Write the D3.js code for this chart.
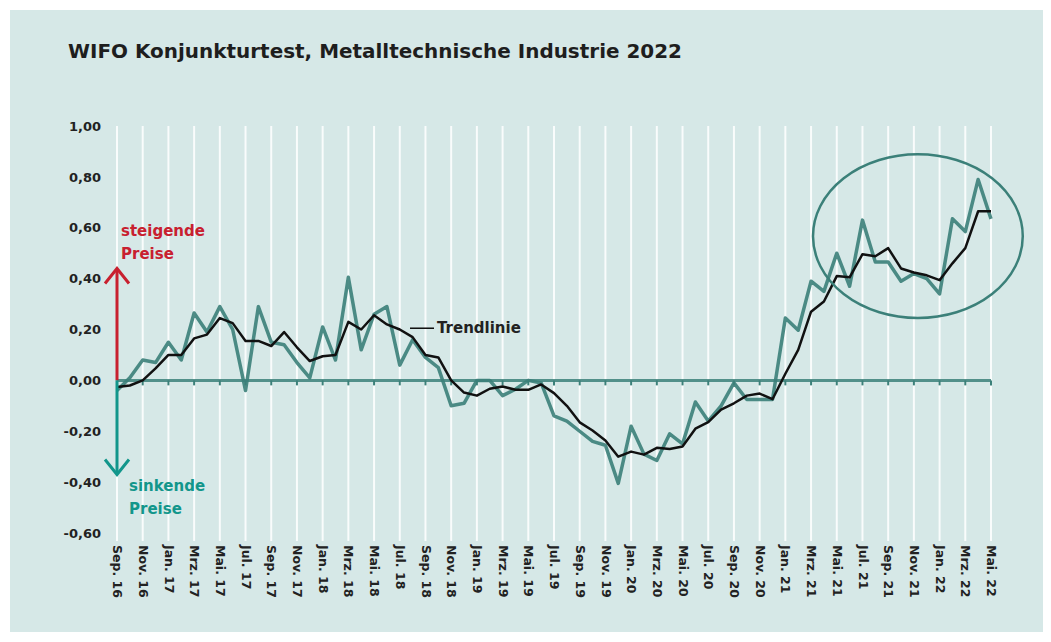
<!DOCTYPE html>
<html>
<head>
<meta charset="utf-8">
<script src="https://cdn.jsdelivr.net/npm/d3@7"></script>
<style>
  body { margin: 0; background: #fff; }
  text { font-family: "DejaVu Sans", "Noto Sans", sans-serif; }
</style>
</head>
<body>
<div class="canvas"></div>
<script>
// months Sep 16 .. Mai 22
const months = [
  'Sep. 16','Okt. 16','Nov. 16','Dez. 16',
  'Jan. 17','Feb. 17','Mrz. 17','Apr. 17','Mai. 17','Jun. 17','Jul. 17','Aug. 17','Sep. 17','Okt. 17','Nov. 17','Dez. 17',
  'Jan. 18','Feb. 18','Mrz. 18','Apr. 18','Mai. 18','Jun. 18','Jul. 18','Aug. 18','Sep. 18','Okt. 18','Nov. 18','Dez. 18',
  'Jan. 19','Feb. 19','Mrz. 19','Apr. 19','Mai. 19','Jun. 19','Jul. 19','Aug. 19','Sep. 19','Okt. 19','Nov. 19','Dez. 19',
  'Jan. 20','Feb. 20','Mrz. 20','Apr. 20','Mai. 20','Jun. 20','Jul. 20','Aug. 20','Sep. 20','Okt. 20','Nov. 20','Dez. 20',
  'Jan. 21','Feb. 21','Mrz. 21','Apr. 21','Mai. 21','Jun. 21','Jul. 21','Aug. 21','Sep. 21','Okt. 21','Nov. 21','Dez. 21',
  'Jan. 22','Feb. 22','Mrz. 22','Apr. 22','Mai. 22'
];

// tick labels on the x axis (every second month)
const tickLabels = [
  'Sep. 16','Nov. 16','Jan. 17','Mrz. 17','Mai. 17','Jul. 17','Sep. 17','Nov. 17',
  'Jan. 18','Mrz. 18','Mai. 18','Jul. 18','Sep. 18','Nov. 18','Jan. 19','Mrz. 19',
  'Mai. 19','Jul. 19','Sep. 19','Nov. 19','Jan. 20','Mrz. 20','Mai. 20','Jul. 20',
  'Sep. 20','Nov. 20','Jan. 21','Mrz. 21','Mai. 21','Jul. 21','Sep. 21','Nov. 21',
  'Jan. 22','Mrz. 22','Mai. 22'
];

const yTicks = [1.0, 0.8, 0.6, 0.4, 0.2, 0.0, -0.2, -0.4, -0.6];

// Saldo (monthly values)
const saldo = [
  -0.04, 0.01, 0.08, 0.07, 0.15, 0.08, 0.265, 0.19, 0.29, 0.20, -0.04, 0.29,
  0.15, 0.14, 0.07, 0.01, 0.21, 0.08, 0.405, 0.12, 0.26, 0.29, 0.06, 0.16,
  0.09, 0.05, -0.10, -0.09, 0.00, 0.00, -0.06, -0.035, 0.00, -0.01, -0.14, -0.16,
  -0.20, -0.24, -0.255, -0.405, -0.18, -0.29, -0.315, -0.21, -0.25, -0.085, -0.16, -0.10,
  -0.01, -0.075, -0.075, -0.075, 0.245, 0.197, 0.39, 0.35, 0.50, 0.37, 0.63, 0.465,
  0.465, 0.39, 0.42, 0.40, 0.34, 0.635, 0.585, 0.79, 0.635
];

// Trendlinie
const trend = [
  -0.026, -0.02, 0.00, 0.047, 0.10, 0.10, 0.165, 0.18, 0.245, 0.225, 0.155, 0.155,
  0.135, 0.19, 0.13, 0.076, 0.095, 0.10, 0.23, 0.20, 0.256, 0.22, 0.20, 0.17,
  0.10, 0.09, 0.00, -0.048, -0.06, -0.033, -0.024, -0.037, -0.037, -0.016, -0.05, -0.10,
  -0.165, -0.197, -0.236, -0.30, -0.28, -0.292, -0.265, -0.27, -0.26, -0.19, -0.164, -0.115,
  -0.09, -0.06, -0.052, -0.074, 0.026, 0.12, 0.27, 0.31, 0.41, 0.405, 0.496, 0.488,
  0.52, 0.44, 0.424, 0.413, 0.394, 0.46, 0.52, 0.665, 0.665
];

const width = 1051, height = 642;
const bg = '#d6e8e7';
const teal = '#3b8079';
const red = '#c8202f';
const arrowTeal = '#12968b';

const svg = d3.select('.canvas')
  .append('svg')
    .attr('width', width)
    .attr('height', height);

// panel background
svg.append('rect')
  .attr('x', 10).attr('y', 10)
  .attr('width', 1033).attr('height', 622)
  .attr('fill', bg);

svg.append('text')
  .attr('x', 68).attr('y', 58)
  .attr('font-size', 19).attr('font-weight', 700)
  .attr('fill', '#1e1e1e')
  .attr('textLength', 614)
  .attr('lengthAdjust', 'spacingAndGlyphs')
  .text('WIFO Konjunkturtest, Metalltechnische Industrie 2022');

// scales
const x = d3.scalePoint()
  .domain(months)
  .range([117, 991]);

const y = d3.scaleLinear()
  .domain([-0.6, 1.0])
  .range([533, 126]);

// vertical white grid lines
svg.append('g')
  .selectAll('line')
  .data(tickLabels)
  .enter().append('line')
    .attr('x1', d => x(d)).attr('x2', d => x(d))
    .attr('y1', y(1.0)).attr('y2', y(-0.6) + 8)
    .attr('stroke', '#ffffff')
    .attr('stroke-opacity', 0.85)
    .attr('stroke-width', 2);

// y axis labels
const yAxis = d3.axisLeft(y)
  .tickValues(yTicks)
  .tickSize(0)
  .tickPadding(0)
  .tickFormat(d => d3.format('.2f')(d).replace('.', ',').replace('−', '-'));

const yAxisGroup = svg.append('g')
  .attr('transform', 'translate(101, 0)')
  .call(yAxis);
yAxisGroup.select('.domain').remove();
yAxisGroup.selectAll('text')
  .attr('font-size', 13).attr('font-weight', 700)
  .attr('fill', '#222')
  .attr('font-family', '"DejaVu Sans", sans-serif');

// x axis labels (rotated)
const xAxis = d3.axisBottom(x)
  .tickValues(tickLabels)
  .tickSize(0)
  .tickPadding(0);

const xAxisGroup = svg.append('g')
  .attr('transform', `translate(0, ${y(-0.6) + 12})`)
  .call(xAxis);
xAxisGroup.select('.domain').remove();
xAxisGroup.selectAll('text')
  .attr('font-size', 12.5).attr('font-weight', 700)
  .attr('fill', '#222')
  .attr('font-family', '"DejaVu Sans", sans-serif')
  .attr('transform', 'rotate(90)')
  .attr('text-anchor', 'start')
  .attr('x', 0).attr('y', 0)
  .attr('dy', '0.35em');

// zero line with small ticks
svg.append('line')
  .attr('x1', x(months[0])).attr('x2', x(months[months.length - 1]))
  .attr('y1', y(0)).attr('y2', y(0))
  .attr('stroke', teal).attr('stroke-opacity', 0.85)
  .attr('stroke-width', 3);

svg.append('g')
  .selectAll('line')
  .data(tickLabels)
  .enter().append('line')
    .attr('x1', d => x(d)).attr('x2', d => x(d))
    .attr('y1', y(0)).attr('y2', y(0) + 5)
    .attr('stroke', teal).attr('stroke-width', 2);

// lines
const line = d3.line()
  .x((d, i) => x(months[i]))
  .y(d => y(d));

svg.append('path')
  .datum(saldo)
  .attr('fill', 'none')
  .attr('stroke', teal)
  .attr('stroke-opacity', 0.9)
  .attr('stroke-width', 3.5)
  .attr('stroke-linejoin', 'round')
  .attr('d', line);

svg.append('path')
  .datum(trend)
  .attr('fill', 'none')
  .attr('stroke', '#111')
  .attr('stroke-width', 2.5)
  .attr('stroke-linejoin', 'round')
  .attr('d', line);

// ellipse around the most recent months
svg.append('ellipse')
  .attr('cx', x('Nov. 21') + 4)
  .attr('cy', y(0.567))
  .attr('rx', (x('Mai. 22') - x('Jan. 21')) * 0.51)
  .attr('ry', y(0.245) - y(0.567))
  .attr('fill', 'none')
  .attr('stroke', teal)
  .attr('stroke-width', 2.5);

// arrows
const ax = x(months[0]);
const arrow = (yEnd, color, dir) => {
  svg.append('line')
    .attr('x1', ax).attr('x2', ax)
    .attr('y1', y(0)).attr('y2', y(yEnd) + dir * 1)
    .attr('stroke', color).attr('stroke-width', 3);
  svg.append('path')
    .attr('d', `M${ax - 12},${y(yEnd) + dir * 15} L${ax},${y(yEnd)} L${ax + 12},${y(yEnd) + dir * 15}`)
    .attr('fill', 'none')
    .attr('stroke', color).attr('stroke-width', 3);
};
arrow(0.44, red, 1);
arrow(-0.37, arrowTeal, -1);

const note = (xp, yp, lines, color) => {
  const t = svg.append('text')
    .attr('x', xp).attr('y', yp)
    .attr('font-size', 15).attr('font-weight', 700)
    .attr('fill', color);
  lines.forEach((l, i) => {
    t.append('tspan').attr('x', xp).attr('dy', i === 0 ? 0 : 23).text(l);
  });
};
note(121, 236, ['steigende', 'Preise'], red);
note(129, 491, ['sinkende', 'Preise'], arrowTeal);

// Trendlinie label
svg.append('line')
  .attr('x1', 410).attr('x2', 434)
  .attr('y1', y(0.205)).attr('y2', y(0.205))
  .attr('stroke', '#111').attr('stroke-width', 1.5);
svg.append('text')
  .attr('x', 437).attr('y', y(0.205) + 5)
  .attr('font-size', 15).attr('font-weight', 700)
  .attr('fill', '#222')
  .text('Trendlinie');
</script>
</body>
</html>
